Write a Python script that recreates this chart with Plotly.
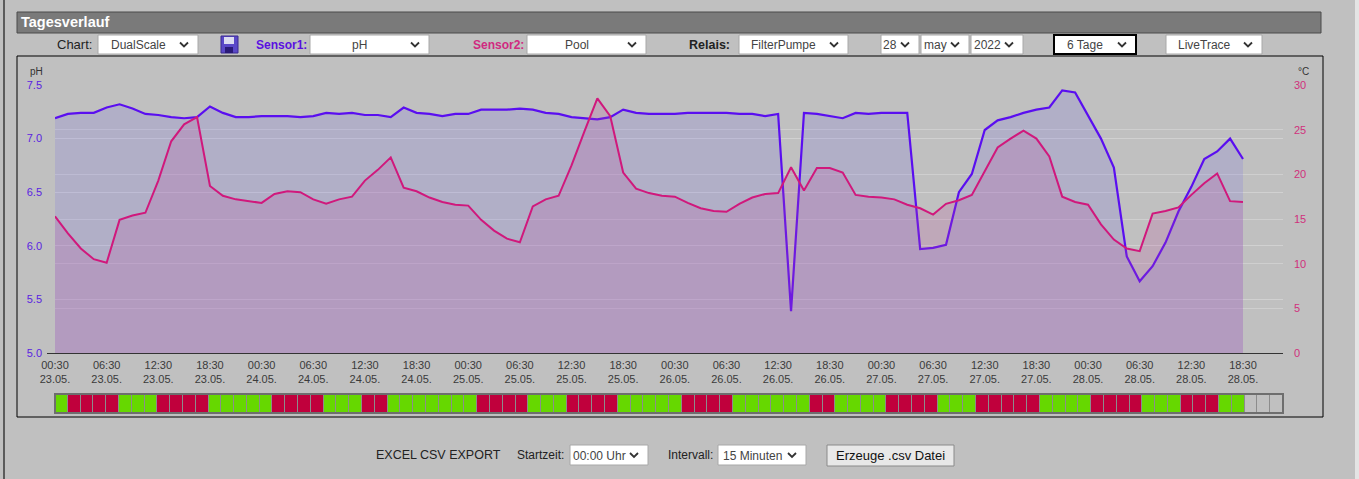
import plotly.graph_objects as go

# ---------------- data ----------------
ph_values = [
    7.19, 7.23, 7.24, 7.24, 7.29, 7.32, 7.28, 7.23, 7.22, 7.20, 7.19, 7.20,
    7.30, 7.24, 7.20, 7.20, 7.21, 7.21, 7.21, 7.20, 7.21, 7.24, 7.23, 7.24,
    7.22, 7.22, 7.20, 7.29, 7.24, 7.23, 7.21, 7.23, 7.23, 7.27, 7.27, 7.27,
    7.28, 7.27, 7.24, 7.23, 7.20, 7.19, 7.18, 7.20, 7.27, 7.24, 7.23, 7.23,
    7.23, 7.24, 7.24, 7.24, 7.24, 7.23, 7.23, 7.21, 7.23, 5.39, 7.24, 7.23,
    7.21, 7.19, 7.24, 7.23, 7.24, 7.24, 7.24, 5.97, 5.98, 6.01, 6.50, 6.67,
    7.08, 7.17, 7.20, 7.24, 7.27, 7.29, 7.45, 7.43, 7.22, 7.00, 6.73, 5.90,
    5.67, 5.81, 6.03, 6.32, 6.55, 6.81, 6.88, 7.00, 6.81,
]
temp_values = [
    15.3, 13.4, 11.7, 10.5, 10.1, 14.9, 15.4, 15.7, 19.3, 23.7, 25.6, 26.4,
    18.7, 17.6, 17.2, 17.0, 16.8, 17.8, 18.1, 18.0, 17.2, 16.7, 17.2, 17.5,
    19.3, 20.5, 21.9, 18.5, 18.1, 17.4, 16.9, 16.6, 16.5, 14.9, 13.7, 12.8,
    12.4, 16.4, 17.2, 17.6, 21.0, 24.8, 28.5, 26.5, 20.2, 18.4, 17.9, 17.6,
    17.5, 16.8, 16.2, 15.9, 15.8, 16.7, 17.4, 17.8, 17.9, 20.8, 18.2, 20.7,
    20.7, 20.2, 17.7, 17.5, 17.4, 17.2, 16.6, 16.2, 15.5, 16.7, 17.1, 17.7,
    20.3, 23.0, 24.0, 24.9, 24.0, 22.0, 17.5, 16.9, 16.6, 14.4, 12.7, 11.7,
    11.4, 15.6, 15.9, 16.3, 17.7, 19.0, 20.1, 17.0, 16.9,
]
# relay state per 1.5h slot: 1 = on (green), 0 = off (red), None = no data
relay_states = [
    1, 0, 0, 0, 0, 1, 1, 1, 0, 0, 0, 0, 1, 1, 1, 1, 1, 0, 0, 0, 0, 1, 1, 1,
    0, 0, 1, 1, 1, 1, 1, 1, 1, 0, 0, 0, 0, 1, 1, 1, 0, 0, 0, 0, 1, 1, 1, 1,
    1, 0, 0, 0, 0, 1, 1, 1, 1, 1, 1, 0, 0, 1, 1, 1, 1, 0, 0, 0, 0, 1, 1, 1,
    0, 0, 0, 0, 0, 1, 1, 1, 1, 0, 0, 0, 0, 1, 1, 1, 0, 0, 0, 1, 1, None, None, None,
]
tick_times = ["00:30", "06:30", "12:30", "18:30"] * 6
tick_dates = (["23.05."] * 4 + ["24.05."] * 4 + ["25.05."] * 4 +
              ["26.05."] * 4 + ["27.05."] * 4 + ["28.05."] * 4)
ph_ticks = [5.0, 5.5, 6.0, 6.5, 7.0, 7.5]
temp_ticks = [0, 5, 10, 15, 20, 25, 30]

# ---------------- layout helpers ----------------
W, H = 1359, 479
BG = "#c0c0c0"
FONT = "Liberation Sans"
PH_COL = "#5a0ef0"
T_COL = "#d0187c"


def px(x):
    return x / W


def py(y):
    return 1 - y / H


idx = list(range(len(ph_values)))
tick_pos = idx[::4]
tick_text = [f"{t}<br>{d}" for t, d in zip(tick_times, tick_dates)]

fig = go.Figure()

fig.add_trace(go.Scatter(
    x=idx, y=ph_values, mode="lines", fill="tozeroy",
    fillcolor="rgba(122,112,232,0.20)", line=dict(color=PH_COL, width=2.2),
    xaxis="x", yaxis="y", hoverinfo="skip", showlegend=False))
fig.add_trace(go.Scatter(
    x=idx, y=temp_values, mode="lines", fill="tozeroy",
    fillcolor="rgba(188,76,160,0.20)", line=dict(color=T_COL, width=2),
    xaxis="x", yaxis="y2", hoverinfo="skip", showlegend=False))

relay_colors = []
for s in relay_states:
    if s is None:
        relay_colors.append(BG)
    elif s == 1:
        relay_colors.append("#66d800")
    else:
        relay_colors.append("#c0003c")
fig.add_trace(go.Bar(
    x=[k + 0.5 for k in range(len(relay_states))], y=[1] * len(relay_states),
    width=1, marker=dict(color=relay_colors, line=dict(color="#8c8c8c", width=1)),
    xaxis="x2", yaxis="y3", hoverinfo="skip", showlegend=False))

x_dom = [px(55), px(1283)]
x_end = (1283 - 55) / ((1243 - 55) / (len(ph_values) - 1))

fig.update_layout(
    template="none",
    width=W, height=H, autosize=False, margin=dict(l=0, r=0, t=0, b=0, pad=0),
    paper_bgcolor=BG, plot_bgcolor="rgba(0,0,0,0)",
    font=dict(family=FONT, color="#333"),
    bargap=0,
    xaxis=dict(domain=x_dom, range=[0, x_end], tickvals=tick_pos, ticktext=tick_text,
               showgrid=False, zeroline=False, showline=False, ticks="",
               tickfont=dict(size=11, color="#3a3a3a"), ticklabelstandoff=4,
               anchor="y", fixedrange=True, automargin=False),
    yaxis=dict(domain=[py(353), py(85)], range=[5.0, 7.5], tickvals=ph_ticks,
               ticktext=[f"{v:.1f}" for v in ph_ticks],
               showgrid=True, gridcolor="rgba(255,255,255,0.28)", gridwidth=1,
               zeroline=False, showline=False, ticks="",
               tickfont=dict(size=11, color="#5a1ee0"), ticklabelstandoff=12,
               fixedrange=True, automargin=False),
    yaxis2=dict(domain=[py(353), py(85)], range=[0, 30], tickvals=temp_ticks,
                overlaying="y", side="right", anchor="x",
                showgrid=True, gridcolor="rgba(255,255,255,0.24)", gridwidth=1,
                zeroline=False, showline=False, ticks="",
                tickfont=dict(size=11, color="#d0307c"), ticklabelstandoff=10,
                fixedrange=True, automargin=False),
    xaxis2=dict(domain=[px(55), px(1283)], range=[0, len(relay_states)],
                showticklabels=False, showgrid=False, zeroline=False, showline=False,
                ticks="", anchor="y3", fixedrange=True, automargin=False),
    yaxis3=dict(domain=[py(413), py(395)], range=[0, 1], showticklabels=False,
                showgrid=False, zeroline=False, showline=False, ticks="",
                anchor="x2", fixedrange=True, automargin=False),
)

shapes = []
ann = []


def rect(x0, y0, x1, y1, fill=None, line="#000", lw=1):
    shapes.append(dict(type="rect", xref="paper", yref="paper",
                       x0=px(x0), x1=px(x1), y0=py(y1), y1=py(y0),
                       fillcolor=fill if fill else "rgba(0,0,0,0)",
                       line=dict(color=line, width=lw), layer="below" if fill else "above"))


def text(x, y, s, size=13, color="#222", anchor="left", bold=False):
    if bold:
        s = f"<b>{s}</b>"
    ann.append(dict(x=px(x), y=py(y), xref="paper", yref="paper", text=s,
                    showarrow=False, xanchor=anchor, yanchor="middle",
                    font=dict(family=FONT, size=size, color=color)))


def chevron(x, y):
    shapes.append(dict(type="path", xref="paper", yref="paper",
                       path=f"M {px(x-4)},{py(y-2)} L {px(x)},{py(y+2)} L {px(x+4)},{py(y-2)}",
                       line=dict(color="#333", width=1.8)))


def dropdown(x0, x1, y0, y1, label, lw=1, line="#a8a8a8"):
    rect(x0, y0, x1, y1, fill="#ffffff", line=line, lw=lw)
    text((x0 + x1 - 20) / 2, (y0 + y1) / 2 + 0.5, label, size=12, color="#444", anchor="center")
    chevron(x1 - 14, (y0 + y1) / 2)


# page edges
shapes.append(dict(type="line", xref="paper", yref="paper", x0=px(4), x1=px(4), y0=0, y1=1,
                   line=dict(color="#3a3a3a", width=1.5)))
rect(1355, -1, 1360, 480, fill="#e4e4e4", line="rgba(0,0,0,0)", lw=0)

# title bar
rect(17, 12, 1321, 33, fill="#7a7a7a", line="#4a4a4a", lw=1)
text(19, 22.5, "Tagesverlauf", size=14.5, color="#ffffff", bold=True)

# control row
text(94, 44.5, "Chart:", anchor="right")
dropdown(98, 198, 35, 54, "DualScale")
rect(221, 36, 238, 53, fill="#5a48c8", line="#3a2a90", lw=1)
rect(224, 37, 234, 44, fill="#dcdcf0", line="rgba(0,0,0,0)", lw=0)
rect(225, 47, 233, 53, fill="#2a1a78", line="rgba(0,0,0,0)", lw=0)
text(309, 44.5, "Sensor1:", size=12, color="#5a10e0", anchor="right", bold=True)
dropdown(310, 429, 35, 54, "pH")
text(526, 44.5, "Sensor2:", size=12, color="#d02a80", anchor="right", bold=True)
dropdown(527, 646, 35, 54, "Pool")
text(732, 44.5, "Relais:", size=12.5, anchor="right", bold=True)
dropdown(739, 848, 35, 54, "FilterPumpe")
dropdown(881, 919, 35, 54, "28")
dropdown(921, 969, 35, 54, "may")
dropdown(971, 1023, 35, 54, "2022")
dropdown(1054, 1136, 35, 54, "6 Tage", lw=2, line="#000")
dropdown(1166, 1262, 35, 54, "LiveTrace")

# chart frame
rect(17, 56, 1323, 417, line="#000", lw=1)

# axis unit labels
text(28, 71, "pH", size=10, color="#333")
text(1296, 71, "°C", size=10, color="#333")

# baseline
shapes.append(dict(type="line", xref="paper", yref="paper", x0=px(47), x1=px(1283),
                   y0=py(353.5), y1=py(353.5), line=dict(color="#333", width=1.2)))

# relay border
rect(55, 394, 1283, 413, line="#6e6e6e", lw=2)

# bottom export row
text(503, 455, "EXCEL CSV EXPORT", size=12.5, color="#222", anchor="right")
text(566, 455, "Startzeit:", size=12, color="#222", anchor="right")
dropdown(570, 648, 445, 465, "00:00 Uhr")
text(715, 455, "Intervall:", size=12, color="#222", anchor="right")
dropdown(718, 806, 445, 465, "15 Minuten")
rect(827, 445, 954, 466, fill="#e8e8e8", line="#8a8a8a", lw=1)
text(890.5, 455.5, "Erzeuge .csv Datei", size=13, color="#111", anchor="center")

fig.update_layout(shapes=shapes, annotations=ann)

fig.write_html(
    "out.html", include_plotlyjs=True, full_html=True,
    config={"displayModeBar": False},
    post_script=(
        "document.documentElement.style.margin='0';"
        "document.documentElement.style.overflow='hidden';"
        "document.body.style.margin='0';document.body.style.padding='0';"
        "document.body.style.overflow='hidden';"
    ),
)
